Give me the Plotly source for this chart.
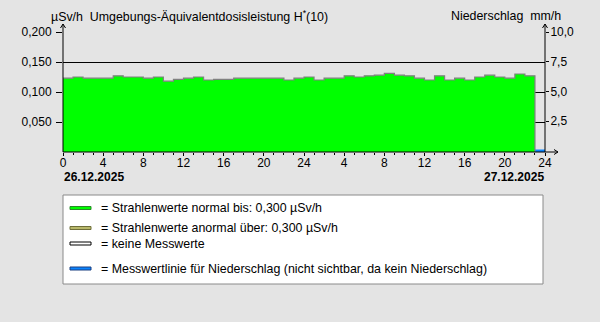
import plotly.graph_objects as go

# ---- data ----
hours = list(range(47))  # hourly bins, 26.12.2025 00h .. 27.12.2025 22h
dose_rate = [0.123, 0.125, 0.123, 0.123, 0.123, 0.127, 0.125, 0.125, 0.123, 0.125,
             0.118, 0.121, 0.123, 0.125, 0.120, 0.121, 0.121, 0.123, 0.123, 0.123,
             0.123, 0.123, 0.120, 0.123, 0.125, 0.120, 0.123, 0.123, 0.127, 0.125,
             0.127, 0.128, 0.131, 0.128, 0.127, 0.123, 0.120, 0.127, 0.120, 0.123,
             0.120, 0.125, 0.128, 0.125, 0.123, 0.130, 0.127]
precip_hours = [0, 48]
precip = [0.0, 0.0]
x_tickvals = list(range(0, 49, 4))
x_ticktext = ["0", "4", "8", "12", "16", "20", "24", "4", "8", "12", "16", "20", "24"]
y_tickvals = [0.05, 0.10, 0.15, 0.20]
y2_tickvals = [2.5, 5.0, 7.5, 10.0]
dates = ["26.12.2025", "27.12.2025"]
legend_labels = ["= Strahlenwerte normal bis: 0,300 µSv/h",
                 "= Strahlenwerte anormal über: 0,300 µSv/h",
                 "= keine Messwerte",
                 "= Messwertlinie für Niederschlag (nicht sichtbar, da kein Niederschlag)"]
legend_colors = ["#00ff00", "#b8b86a", "#ffffff", "#0a84ff"]
legend_edges = ["#2a8a2a", "#6f6f3a", "#000000", "#1a3f80"]

BG = "#e4e4e4"
W, H = 600, 322
L, R, T, B = 63, 545, 32, 152
pw, ph = R - L, B - T

def px(x):
    return (x - L) / pw

def py(y):
    return (B - y) / ph

fig = go.Figure()

# precipitation line on the base (right-hand) axis, drawn below the radiation area
fig.add_trace(go.Scatter(x=precip_hours, y=precip, yaxis="y", mode="lines",
                         line=dict(color="#0a84ff", width=2.5), cliponaxis=False,
                         hoverinfo="skip", showlegend=False))

# radiation step area on the overlaying (left-hand) axis
xs = hours + [hours[-1] + 1]
ys = dose_rate + [0]
fig.add_trace(go.Scatter(x=xs, y=ys, yaxis="y2", mode="lines", line_shape="hv",
                         line=dict(color="#808080", width=1.2),
                         fill="tozeroy", fillcolor="#00ff00",
                         hoverinfo="skip", showlegend=False))

font = dict(family="Liberation Sans, Arial, sans-serif", size=12, color="#000000")
tfont = dict(font, size=12.4)

shapes = []
# axes with arrows
shapes.append(dict(type="line", xref="paper", yref="paper", x0=0, x1=0, y0=0, y1=py(24),
                   line=dict(color="black", width=1)))
shapes.append(dict(type="line", xref="paper", yref="paper", x0=1, x1=1, y0=0, y1=py(24),
                   line=dict(color="black", width=1)))
shapes.append(dict(type="line", xref="paper", yref="paper", x0=0, x1=px(558), y0=0, y1=0,
                   line=dict(color="black", width=1)))
for ax_x in (L, R):
    shapes.append(dict(type="path", xref="paper", yref="paper",
                       path=f"M {px(ax_x-2.5)},{py(28)} L {px(ax_x)},{py(24)} L {px(ax_x+2.5)},{py(28)}",
                       line=dict(color="black", width=1)))
shapes.append(dict(type="path", xref="paper", yref="paper",
                   path=f"M {px(554)},{py(149.5)} L {px(558)},{py(152)} L {px(554)},{py(154.5)}",
                   line=dict(color="black", width=1)))

# legend box
shapes.append(dict(type="rect", xref="paper", yref="paper", x0=px(63), x1=px(543),
                   y0=py(284), y1=py(195), fillcolor="white", line=dict(color="#8a8a8a", width=1)))
rows_y = [208, 228, 243.5, 268.5]
annotations = []
for lab, col, edge, yy in zip(legend_labels, legend_colors, legend_edges, rows_y):
    shapes.append(dict(type="rect", xref="paper", yref="paper", x0=px(70), x1=px(91),
                       y0=py(yy + 1.5), y1=py(yy - 1.5), fillcolor=col,
                       line=dict(color=edge, width=1)))
    annotations.append(dict(text=lab, xref="paper", yref="paper", x=px(99), y=py(yy),
                            xanchor="left", yanchor="middle", showarrow=False, font=tfont))

# titles
annotations.append(dict(text="µSv/h&nbsp;&nbsp;Umgebungs-Äquivalentdosisleistung H<sup>*</sup>(10)",
                        xref="paper", yref="paper", x=px(49), y=py(15.5), xanchor="left",
                        yanchor="middle", showarrow=False, font=tfont))
annotations.append(dict(text="Niederschlag&nbsp;&nbsp;mm/h", xref="paper", yref="paper", x=px(563),
                        y=py(15.5), xanchor="right", yanchor="middle", showarrow=False, font=tfont))
# dates
annotations.append(dict(text="<b>" + dates[0] + "</b>", xref="paper", yref="paper", x=px(62),
                        y=py(177), xanchor="left", yanchor="middle", showarrow=False, font=font))
annotations.append(dict(text="<b>" + dates[1] + "</b>", xref="paper", yref="paper", x=px(546),
                        y=py(177), xanchor="right", yanchor="middle", showarrow=False, font=font))

fig.update_layout(
    width=W, height=H,
    margin=dict(l=L, r=W - R, t=T, b=H - B, pad=0),
    paper_bgcolor=BG, plot_bgcolor=BG,
    font=font, separators=", ",
    shapes=shapes, annotations=annotations,
    showlegend=False,
    xaxis=dict(range=[0, 48], tickvals=x_tickvals, ticktext=x_ticktext,
               ticks="outside", ticklen=3, tickcolor="black", showgrid=False,
               zeroline=False, showline=False, tickfont=font, ticklabelstandoff=-3,
               minor=dict(dtick=1, ticks="outside", ticklen=2, tickcolor="black", showgrid=False)),
    yaxis=dict(range=[-0.1, 10], tickvals=y2_tickvals, tickformat=".1f",
               side="right", ticks="outside", ticklen=3, tickcolor="black",
               showgrid=False, zeroline=False, showline=False, tickfont=font,
               ticklabelstandoff=-1),
    yaxis2=dict(range=[0, 0.2], tickvals=y_tickvals, tickformat=".3f", overlaying="y",
                side="left", ticks="outside", ticklen=6, tickcolor="black", showgrid=True,
                gridcolor="black", gridwidth=1, zeroline=False, showline=False, tickfont=font,
                ticklabelstandoff=2),
)

fig.write_html("out.html")
